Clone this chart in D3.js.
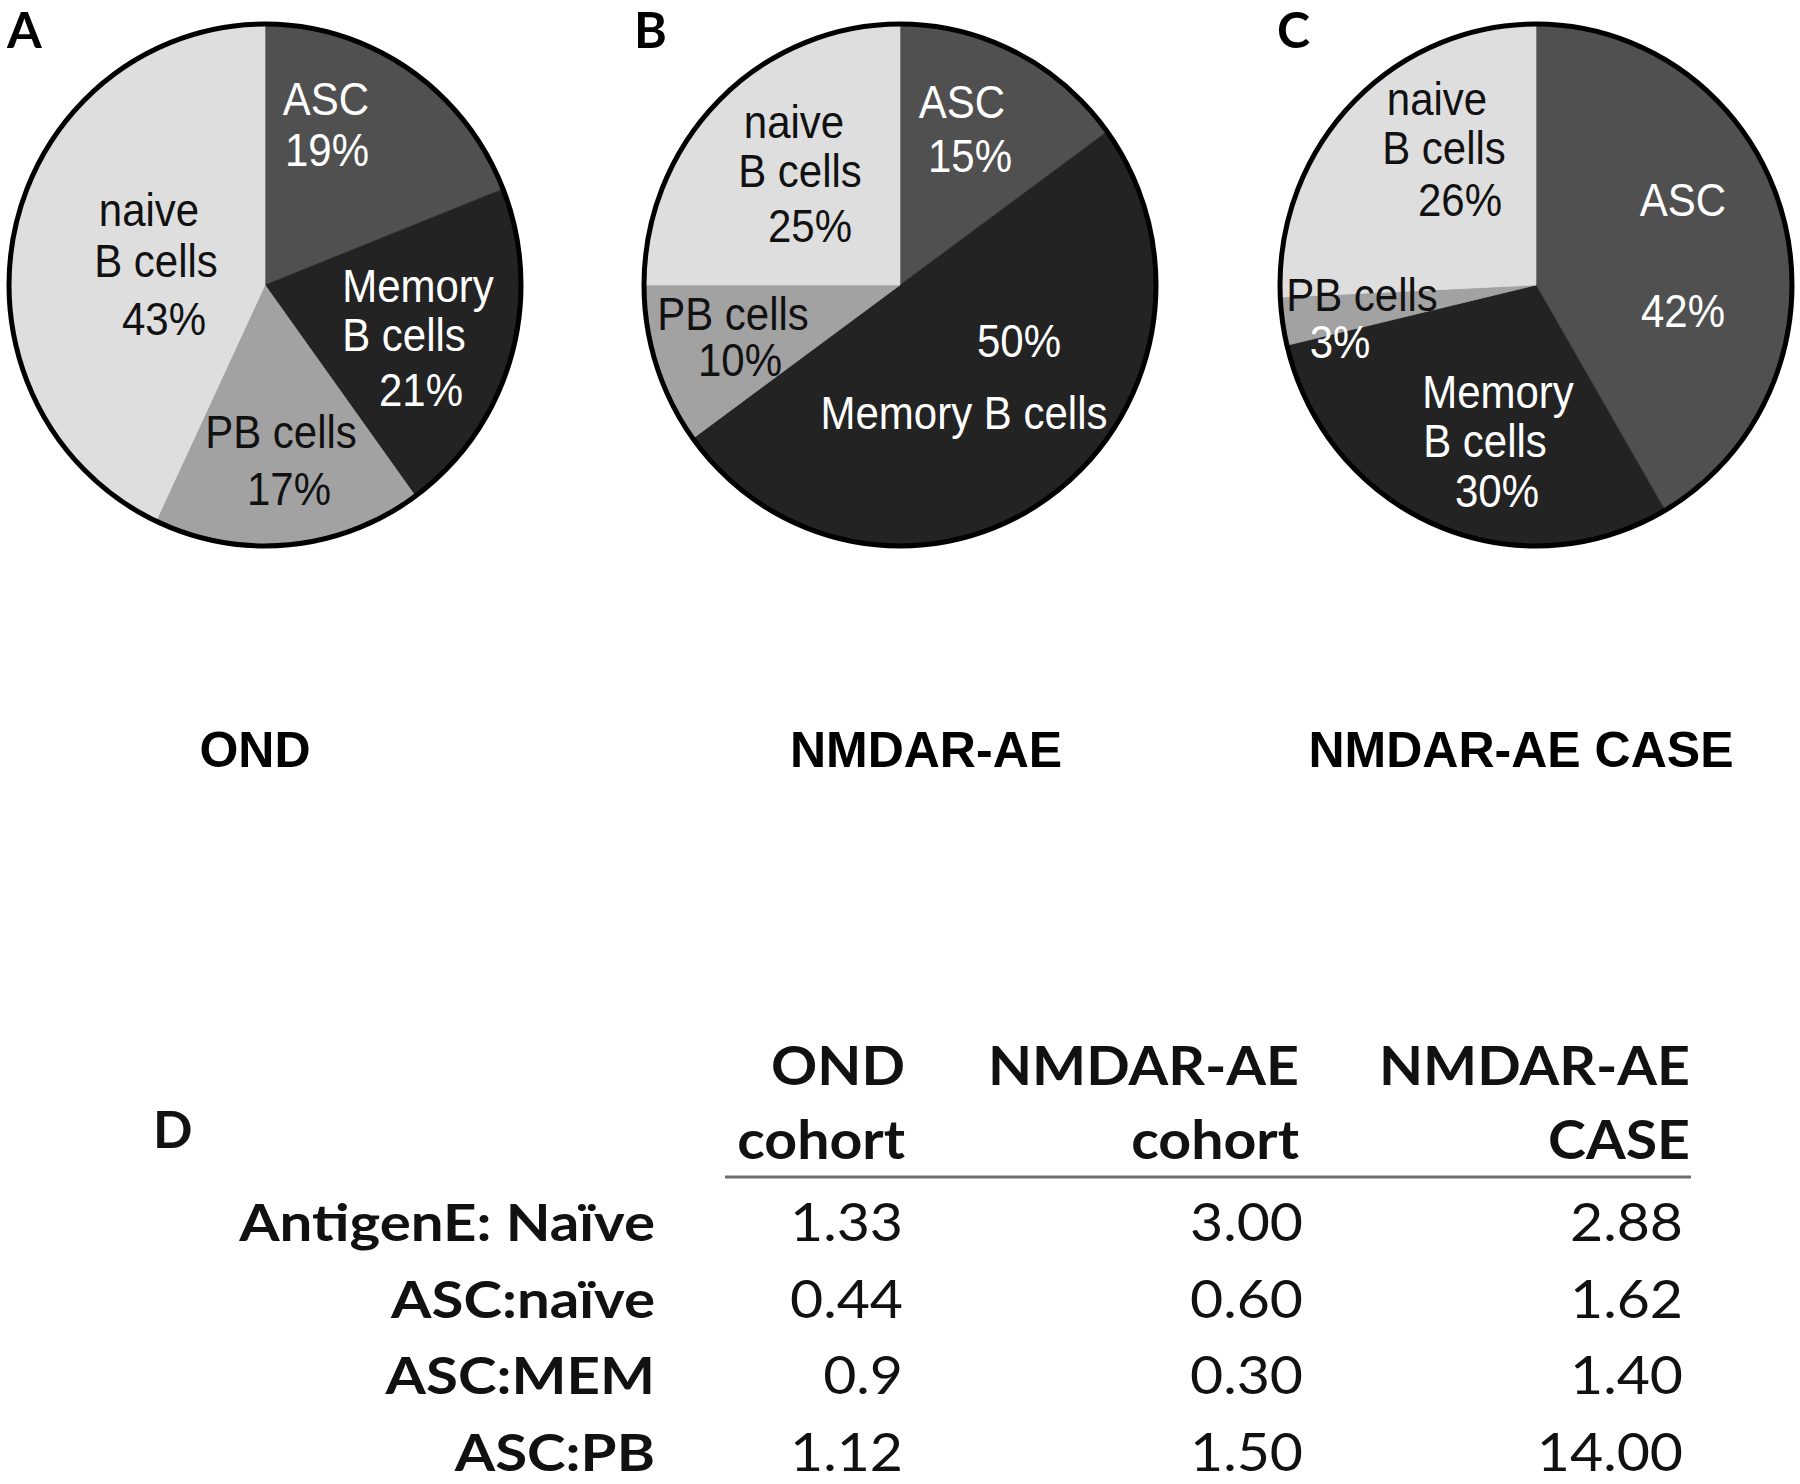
<!DOCTYPE html>
<html><head><meta charset="utf-8">
<script src="https://cdn.jsdelivr.net/npm/d3@7/dist/d3.min.js"></script>
<style>body{margin:0;background:#fff} svg{display:block}</style>
</head><body>
<svg id="chart" width="1800" height="1484"></svg>
<script>
// ---------------- data ----------------
const categories = ["ASC", "Memory B cells", "PB cells", "naive B cells"];
const ondValues = [19, 21, 17, 43];
const nmdarValues = [15, 50, 10, 25];
const caseValues = [42, 30, 3, 26];
const pieTitles = ["OND", "NMDAR-AE", "NMDAR-AE CASE"];
const panelLetters = ["A", "B", "C"];

const rowLabels = ["AntigenE: Naïve", "ASC:naïve", "ASC:MEM", "ASC:PB"];
const colHeadLine1 = ["OND", "NMDAR-AE", "NMDAR-AE"];
const colHeadLine2 = ["cohort", "cohort", "CASE"];
const ondRatios = ["1.33", "0.44", "0.9", "1.12"];
const nmdarRatios = ["3.00", "0.60", "0.30", "1.50"];
const caseRatios = ["2.88", "1.62", "1.40", "14.00"];

// ---------------- layout ----------------
const svg = d3.select("#chart");
const pieCenters = [[265, 285], [900, 285], [1536, 285]];
const RX = 256, RY = 261;
const titleX = [255, 926, 1521], titleY = 767;
const letterX = [7, 634, 1277], letterY = 48;

const fill = d3.scaleOrdinal(categories, ["#505050", "#232323", "#a2a2a2", "#dedede"]);
const ink = d3.scaleOrdinal(categories, ["#ffffff", "#ffffff", "#111111", "#111111"]);

// label lines: [categoryIndex, text-or-token, dx, dy, optional colour override]
// token "%" => the percentage from the data
const labelLayouts = [
  [[0, "ASC", 61, -170], [0, "%", 62, -119],
   [3, "naive", -116, -59], [3, "B cells", -109, -8], [3, "%", -101, 50],
   [1, "Memory", 153, 17], [1, "B cells", 139, 66], [1, "%", 156, 121],
   [2, "PB cells", 16, 163], [2, "%", 24, 220]],
  [[0, "ASC", 62, -167], [0, "%", 70, -113],
   [3, "naive", -106, -147], [3, "B cells", -100, -98], [3, "%", -90, -43],
   [2, "PB cells", -167, 45], [2, "%", -160, 91],
   [1, "%", 119, 72], [1, "Memory B cells", 64, 144]],
  [[3, "naive", -99, -170], [3, "B cells", -92, -121], [3, "%", -76, -69],
   [0, "ASC", 147, -69], [0, "%", 147, 42],
   [2, "PB cells", -174, 26, "#111111"], [2, "%", -196, 73, "#ffffff"],
   [1, "Memory", -38, 123], [1, "B cells", -51, 172], [1, "%", -39, 222]]
];

const pie = d3.pie().sort(null).value(d => d.v);
const arc = d3.arc().innerRadius(0).outerRadius(RX);

[ondValues, nmdarValues, caseValues].forEach((vals, i) => {
  const data = categories.map((c, k) => ({ c, v: vals[k] }));
  const [cx, cy] = pieCenters[i];
  const g = svg.append("g").attr("transform", `translate(${cx},${cy})`);
  const sg = g.append("g").attr("transform", `scale(1,${RY / RX})`);
  sg.selectAll("path.slice").data(pie(data)).join("path")
    .attr("class", "slice")
    .attr("d", arc)
    .attr("fill", d => fill(d.data.c))
    .attr("stroke", d => fill(d.data.c))
    .attr("stroke-width", 0.6);
  sg.append("ellipse")
    .attr("rx", RX).attr("ry", RX)
    .attr("fill", "none").attr("stroke", "#000").attr("stroke-width", 5)
    .attr("vector-effect", "non-scaling-stroke");

  g.selectAll("text.lbl").data(labelLayouts[i]).join("text")
    .attr("class", "lbl")
    .attr("transform", d => `translate(${d[2]},${d[3]}) scale(1,1.09)`)
    .attr("text-anchor", "middle")
    .attr("font-family", "'Liberation Sans', Arial, sans-serif")
    .attr("font-size", 42)
    .attr("fill", d => d[4] || ink(categories[d[0]]))
    .text(d => d[1] === "%" ? vals[d[0]] + "%" : d[1]);

  svg.append("text")
    .attr("x", titleX[i]).attr("y", titleY)
    .attr("text-anchor", "middle")
    .attr("font-family", "'Liberation Sans', Arial, sans-serif")
    .attr("font-weight", "bold").attr("font-size", 50)
    .text(pieTitles[i]);

  svg.append("text")
    .attr("x", letterX[i]).attr("y", letterY)
    .attr("font-family", "Lato, sans-serif")
    .attr("font-weight", "bold").attr("font-size", 50)
    .text(panelLetters[i]);
});

// ---------------- table D ----------------
const tbl = svg.append("g").attr("font-family", "Lato, 'Open Sans', sans-serif").attr("fill", "#111");
tbl.append("text").attr("x", 153).attr("y", 1148)
  .attr("font-weight", "bold").attr("font-size", 52).text("D");

const colXs = [905, 1299, 1690];
const valXs = [903, 1303, 1683];
const rowY = d3.scalePoint().domain(rowLabels).range([1241, 1471]);

tbl.selectAll("text.h1").data(colHeadLine1).join("text").attr("class", "h1")
  .attr("transform", (d, i) => `translate(${colXs[i]},1085) scale(1.08,1)`)
  .attr("text-anchor", "end").attr("font-weight", "bold").attr("font-size", 53)
  .text(d => d);
tbl.selectAll("text.h2").data(colHeadLine2).join("text").attr("class", "h2")
  .attr("transform", (d, i) => `translate(${colXs[i]},1159) scale(1.08,1)`)
  .attr("text-anchor", "end").attr("font-weight", "bold").attr("font-size", 53)
  .text(d => d);

tbl.append("line").attr("x1", 725).attr("x2", 1691).attr("y1", 1177).attr("y2", 1177)
  .attr("stroke", "#6e6e6e").attr("stroke-width", 3);

tbl.selectAll("text.rl").data(rowLabels).join("text").attr("class", "rl")
  .attr("transform", d => `translate(655,${rowY(d)}) scale(1.12,1)`)
  .attr("text-anchor", "end").attr("font-weight", "bold").attr("font-size", 52)
  .text(d => d);

[ondRatios, nmdarRatios, caseRatios].forEach((col, j) => {
  tbl.selectAll(`text.v${j}`).data(col).join("text").attr("class", `v${j}`)
    .attr("transform", (d, k) => `translate(${valXs[j]},${rowY(rowLabels[k])}) scale(1.1,1)`)
    .attr("text-anchor", "end").attr("font-size", 52)
    .text(d => d);
});
</script>
</body></html>
